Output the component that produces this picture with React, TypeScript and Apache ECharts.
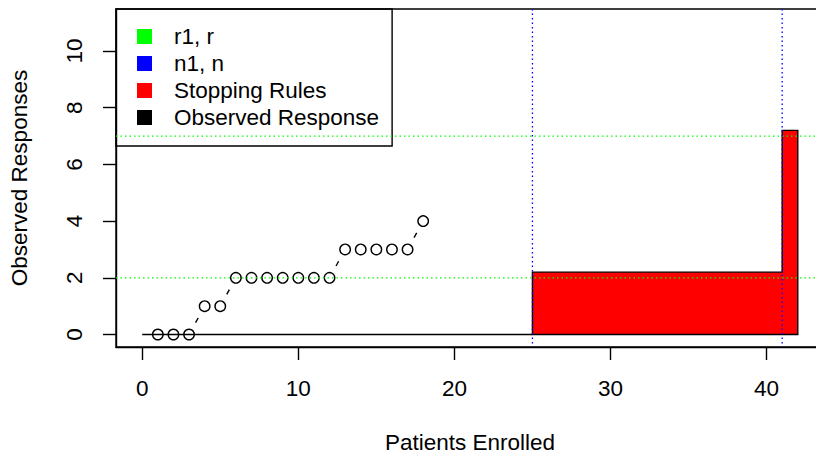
import React, { useEffect, useRef } from "react";
import * as echarts from "echarts";

// ---- data ----
const xTicks = [0, 10, 20, 30, 40];
const yTicks = [0, 2, 4, 6, 8, 10];
const patientNumbers = [1, 2, 3, 4, 5, 6, 7, 8, 9, 10, 11, 12, 13, 14, 15, 16, 17, 18];
const observedResponses = [0, 0, 0, 1, 1, 2, 2, 2, 2, 2, 2, 2, 3, 3, 3, 3, 3, 4];
const baselineX = [0, 25];
const baselineY = [0, 0];
const stopPolyX = [25, 25, 41, 41, 42, 42];
const stopPolyY = [0, 2.2, 2.2, 7.2, 7.2, 0];
const rValues = [2, 7]; // r1, r
const nValues = [25, 41]; // n1, n
const legendNames = ["r1, r", "n1, n", "Stopping Rules", "Observed Response"];
const legendColors = ["#00FF00", "#0000FF", "#FF0000", "#000000"];

const FONT = "'Liberation Sans', Arial, Helvetica, sans-serif";
const FS = 22.5;
const LW = 1.4;

export default function App() {
  const ref = useRef<HTMLDivElement>(null);
  useEffect(() => {
    if (!ref.current) return;
    const chart = echarts.init(ref.current, null, { renderer: "svg" });
    const gap = 13.5;
    const option: any = {
      animation: false,
      backgroundColor: "#ffffff",
      textStyle: { fontFamily: FONT },
      grid: {
        left: 116,
        top: 9,
        width: 708,
        height: 338,
        containLabel: false,
        outerBoundsMode: "none",
        show: true,
        borderColor: "#000",
        borderWidth: LW,
        backgroundColor: "transparent",
      },
      legend: {
        orient: "vertical",
        left: 116,
        top: 9,
        itemWidth: 15,
        itemHeight: 15,
        itemGap: 0,
        padding: [14, 13, 15, 21],
        borderColor: "#000",
        borderWidth: LW,
        backgroundColor: "transparent",
        selectedMode: false,
        textStyle: {
          fontFamily: FONT,
          fontSize: FS,
          color: "#000",
          lineHeight: 27,
          padding: [0, 0, 0, 17],
        },
        data: legendNames.map((n, i) => ({
          name: n,
          icon: "rect",
          itemStyle: { color: legendColors[i], borderWidth: 0, opacity: 1 },
        })),
      },
      xAxis: {
        type: "value",
        min: -1.68,
        max: 43.68,
        name: "Patients Enrolled",
        nameLocation: "middle",
        nameGap: 84,
        nameTextStyle: { fontFamily: FONT, fontSize: FS, color: "#000", lineHeight: 22 },
        axisLine: { show: true, onZero: false, lineStyle: { color: "#000", width: LW } },
        axisTick: { show: true, inside: false, length: 13, customValues: xTicks, lineStyle: { color: "#000", width: LW } },
        axisLabel: { show: true, margin: 30, customValues: xTicks, fontFamily: FONT, fontSize: FS, color: "#000" },
        splitLine: { show: false },
      },
      yAxis: {
        type: "value",
        min: -0.44,
        max: 11.48,
        name: "Observed Responses",
        nameLocation: "middle",
        nameGap: 85,
        nameTextStyle: { fontFamily: FONT, fontSize: FS, color: "#000" },
        axisLine: { show: true, onZero: false, lineStyle: { color: "#000", width: LW } },
        axisTick: { show: true, inside: false, length: 13, customValues: yTicks, lineStyle: { color: "#000", width: LW } },
        axisLabel: { show: true, rotate: 90, margin: 30, customValues: yTicks, fontFamily: FONT, fontSize: FS, color: "#000" },
        splitLine: { show: false },
      },
      series: [
        {
          name: "Stopping Rules",
          type: "custom",
          silent: true,
          z: 1,
          itemStyle: { color: "#FF0000" },
          data: [[stopPolyX[0], stopPolyY[0]]],
          renderItem: (params: any, api: any) => {
            const pts = stopPolyX.map((x, i) => api.coord([x, stopPolyY[i]]));
            return {
              type: "polygon",
              shape: { points: pts },
              style: { fill: "#FF0000", stroke: "#000", lineWidth: LW },
            };
          },
        },
        {
          name: "baseline",
          type: "line",
          silent: true,
          z: 2,
          symbol: "none",
          lineStyle: { color: "#000", width: 1.6 },
          data: baselineX.map((x, i) => [x, baselineY[i]]),
        },
        {
          name: "obsSegments",
          type: "custom",
          silent: true,
          z: 3,
          data: patientNumbers.map((x, i) => [x, observedResponses[i]]),
          renderItem: (params: any, api: any) => {
            const i = params.dataIndex;
            if (i === 0) return { type: "group", children: [] };
            const p0 = api.coord([patientNumbers[i - 1], observedResponses[i - 1]]);
            const p1 = api.coord([patientNumbers[i], observedResponses[i]]);
            const dx = p1[0] - p0[0];
            const dy = p1[1] - p0[1];
            const L = Math.hypot(dx, dy);
            if (L <= 2 * gap) return { type: "group", children: [] };
            const ux = dx / L;
            const uy = dy / L;
            return {
              type: "line",
              shape: {
                x1: p0[0] + ux * gap,
                y1: p0[1] + uy * gap,
                x2: p1[0] - ux * gap,
                y2: p1[1] - uy * gap,
              },
              style: { stroke: "#000", lineWidth: LW },
            };
          },
        },
        {
          name: "Observed Response",
          type: "scatter",
          silent: true,
          z: 4,
          symbol: "circle",
          symbolSize: 10.5,
          itemStyle: { color: "transparent", borderColor: "#000", borderWidth: LW, opacity: 1 },
          data: patientNumbers.map((x, i) => [x, observedResponses[i]]),
        },
        {
          name: "r1, r",
          type: "custom",
          silent: true,
          z: 5,
          itemStyle: { color: "#00FF00" },
          data: rValues.map((v) => [0, v]),
          renderItem: (params: any, api: any) => {
            const cs = params.coordSys;
            const y = api.coord([0, api.value(1)])[1];
            return {
              type: "line",
              shape: { x1: cs.x, y1: y, x2: cs.x + cs.width, y2: y },
              style: { stroke: "#00FF00", lineWidth: 1.3, lineDash: [1.5, 3] },
            };
          },
        },
        {
          name: "n1, n",
          type: "custom",
          silent: true,
          z: 5,
          itemStyle: { color: "#0000FF" },
          data: nValues.map((v) => [v, 0]),
          renderItem: (params: any, api: any) => {
            const cs = params.coordSys;
            const x = api.coord([api.value(0), 0])[0];
            return {
              type: "line",
              shape: { x1: x, y1: cs.y, x2: x, y2: cs.y + cs.height },
              style: { stroke: "#0000FF", lineWidth: 1.3, lineDash: [1.5, 3] },
            };
          },
        },
      ],
    };
    chart.setOption(option);
    return () => chart.dispose();
  }, []);
  return (
    <div
      ref={ref}
      style={{ position: "fixed", left: 0, top: 0, width: 816, height: 454, background: "#fff" }}
    />
  );
}
